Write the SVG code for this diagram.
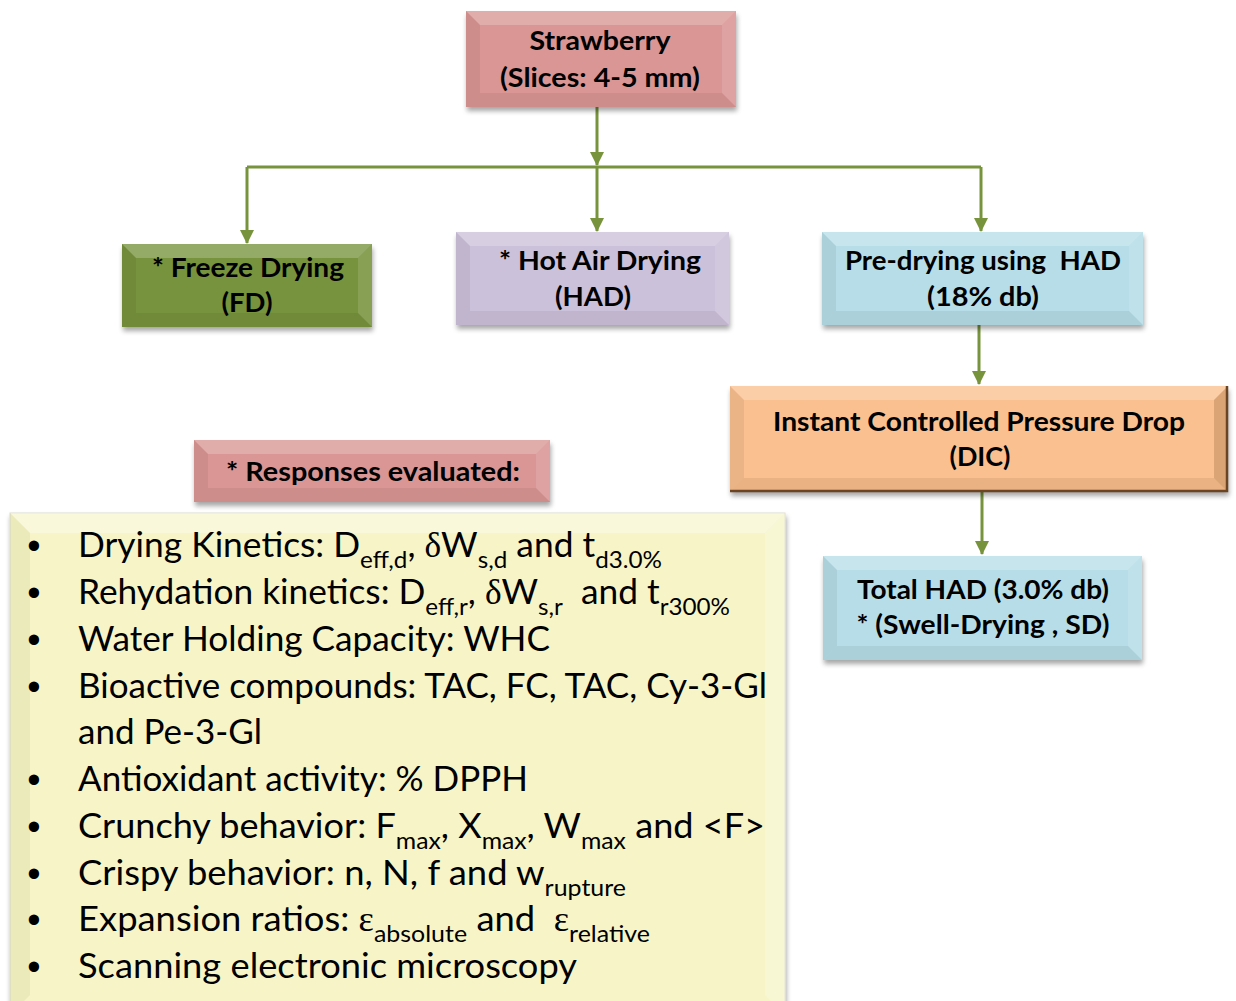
<svg xmlns="http://www.w3.org/2000/svg" width="1236" height="1001" viewBox="0 0 1236 1001">
<style>
.lbl{font-family:Lato,"Liberation Sans",sans-serif;font-weight:bold;font-size:27px;fill:#000;text-anchor:middle;white-space:pre}
.bul{font-family:Lato,"Liberation Sans",sans-serif;font-size:35px;fill:#000;white-space:pre}
.dot{font-family:"Liberation Sans",sans-serif;font-size:38px;fill:#000;text-anchor:middle}
.sub{font-size:24px}
.gr{font-family:"Liberation Serif",serif}
.bt{fill:#fff;opacity:.22}
.bl{fill:#000;opacity:.06}
.br{fill:#fff;opacity:.12}
.bb{fill:#000;opacity:.06}
.con{fill:none;stroke:#77933C;stroke-width:3}
</style>
<defs>
<filter id="sh" x="-10%" y="-10%" width="125%" height="140%">
<feGaussianBlur in="SourceAlpha" stdDeviation="2.5"/>
<feOffset dx="1" dy="4" result="o"/>
<feComponentTransfer><feFuncA type="linear" slope="0.35"/></feComponentTransfer>
<feMerge><feMergeNode/><feMergeNode in="SourceGraphic"/></feMerge>
</filter>
<marker id="ah" markerUnits="userSpaceOnUse" markerWidth="14" markerHeight="14" refX="13" refY="7" orient="auto">
<path d="M0,0 L14,7 L0,14 z" fill="#77933C"/>
</marker>
</defs>
<rect width="1236" height="1001" fill="#fff"/>

<g id="connectors">
<path class="con" d="M597,107 V165" marker-end="url(#ah)"/>
<path class="con" d="M247,167 H981"/>
<path class="con" d="M247,167 V243" marker-end="url(#ah)"/>
<path class="con" d="M597,167 V231" marker-end="url(#ah)"/>
<path class="con" d="M981,167 V231" marker-end="url(#ah)"/>
<path class="con" d="M979,325 V384" marker-end="url(#ah)"/>
<path class="con" d="M982,492 V554" marker-end="url(#ah)"/>
</g>

<g id="strawberry">
<rect x="466" y="11" width="270" height="96" fill="#D99694" filter="url(#sh)"/>
<polygon class="bt" points="466,11 736,11 722,25 480,25"/>
<polygon class="bl" points="466,11 480,25 480,93 466,107"/>
<polygon class="br" points="736,11 736,107 722,93 722,25"/>
<polygon class="bb" points="466,107 480,93 722,93 736,107"/>
<text class="lbl" x="600" y="50" textLength="141" lengthAdjust="spacingAndGlyphs">Strawberry</text>
<text class="lbl" x="600" y="87" textLength="200" lengthAdjust="spacingAndGlyphs">(Slices: 4-5 mm)</text>
</g>

<g id="fd">
<rect x="122" y="244" width="250" height="83" fill="#77933C" filter="url(#sh)"/>
<polygon class="bt" points="122,244 372,244 358,258 136,258"/>
<polygon class="bl" points="122,244 136,258 136,313 122,327"/>
<polygon class="br" points="372,244 372,327 358,313 358,258"/>
<polygon class="bb" points="122,327 136,313 358,313 372,327"/>
<text class="lbl" x="248" y="277" textLength="192" lengthAdjust="spacingAndGlyphs">* Freeze Drying</text>
<text class="lbl" x="247" y="312" textLength="51" lengthAdjust="spacingAndGlyphs">(FD)</text>
</g>

<g id="had">
<rect x="456" y="232" width="273" height="93" fill="#CCC1DA" filter="url(#sh)"/>
<polygon class="bt" points="456,232 729,232 715,246 470,246"/>
<polygon class="bl" points="456,232 470,246 470,311 456,325"/>
<polygon class="br" points="729,232 729,325 715,311 715,246"/>
<polygon class="bb" points="456,325 470,311 715,311 729,325"/>
<text class="lbl" x="600" y="270" textLength="202" lengthAdjust="spacingAndGlyphs">* Hot Air Drying</text>
<text class="lbl" x="593" y="306" textLength="76" lengthAdjust="spacingAndGlyphs">(HAD)</text>
</g>

<g id="predrying">
<rect x="822" y="232" width="321" height="93" fill="#B7DEE8" filter="url(#sh)"/>
<polygon class="bt" points="822,232 1143,232 1129,246 836,246"/>
<polygon class="bl" points="822,232 836,246 836,311 822,325"/>
<polygon class="br" points="1143,232 1143,325 1129,311 1129,246"/>
<polygon class="bb" points="822,325 836,311 1129,311 1143,325"/>
<text class="lbl" x="983" y="270" textLength="276" lengthAdjust="spacingAndGlyphs">Pre-drying using  HAD</text>
<text class="lbl" x="983" y="306" textLength="112" lengthAdjust="spacingAndGlyphs">(18% db)</text>
</g>

<g id="dic">
<rect x="730" y="386" width="498" height="106" fill="#FAC090" filter="url(#sh)"/>
<polygon class="bt" points="730,386 1228,386 1214,400 744,400"/>
<polygon class="bl" points="730,386 744,400 744,478 730,492"/>
<polygon fill="#7a4e24" opacity=".25" points="1228,386 1228,492 1214,478 1214,400"/>
<polygon fill="#7a4e24" opacity=".12" points="730,492 744,478 1214,478 1228,492"/>
<path d="M1227,386 V491 H730" fill="none" stroke="#6b4423" stroke-width="2.5"/>
<text class="lbl" x="979" y="431" textLength="412" lengthAdjust="spacingAndGlyphs">Instant Controlled Pressure Drop</text>
<text class="lbl" x="980" y="466" textLength="61" lengthAdjust="spacingAndGlyphs">(DIC)</text>
</g>

<g id="totalhad">
<rect x="823" y="556" width="319" height="104" fill="#B7DEE8" filter="url(#sh)"/>
<polygon class="bt" points="823,556 1142,556 1128,570 837,570"/>
<polygon class="bl" points="823,556 837,570 837,646 823,660"/>
<polygon class="br" points="1142,556 1142,660 1128,646 1128,570"/>
<polygon class="bb" points="823,660 837,646 1128,646 1142,660"/>
<text class="lbl" x="983" y="599" textLength="252" lengthAdjust="spacingAndGlyphs">Total HAD (3.0% db)</text>
<text class="lbl" x="983" y="634" textLength="253" lengthAdjust="spacingAndGlyphs">* (Swell-Drying , SD)</text>
</g>

<g id="responses">
<rect x="194" y="440" width="356" height="62" fill="#D99694" filter="url(#sh)"/>
<polygon class="bt" points="194,440 550,440 536,454 208,454"/>
<polygon class="bl" points="194,440 208,454 208,488 194,502"/>
<polygon class="br" points="550,440 550,502 536,488 536,454"/>
<polygon class="bb" points="194,502 208,488 536,488 550,502"/>
<text class="lbl" x="373" y="481" textLength="294" lengthAdjust="spacingAndGlyphs">* Responses evaluated:</text>
</g>

<g id="responselist">
<rect x="10" y="513" width="775" height="502" fill="#F7F5C8" stroke="#dcdcd0" stroke-width="1" filter="url(#sh)"/>
<polygon fill="#fff" opacity=".35" points="10,513 785,513 765,533 30,533"/>
<polygon fill="#8a8650" opacity=".1" points="10,513 30,533 30,995 10,1015"/>
<polygon fill="#fff" opacity=".2" points="785,513 785,1015 765,995 765,533"/>
<g class="dot">
<text x="34" y="559">•</text>
<text x="34" y="606">•</text>
<text x="34" y="653">•</text>
<text x="34" y="700">•</text>
<text x="34" y="793">•</text>
<text x="34" y="840">•</text>
<text x="34" y="887">•</text>
<text x="34" y="933">•</text>
<text x="34" y="980">•</text>
</g>
<text class="bul" x="78" y="557" textLength="584" lengthAdjust="spacingAndGlyphs">Drying Kinetics: D<tspan class="sub" dy="11">eff,d</tspan><tspan dy="-11">, </tspan><tspan class="gr">δ</tspan>W<tspan class="sub" dy="11">s,d</tspan><tspan dy="-11"> and t</tspan><tspan class="sub" dy="11">d3.0%</tspan></text>
<text class="bul" x="78" y="604" textLength="652" lengthAdjust="spacingAndGlyphs">Rehydation kinetics: D<tspan class="sub" dy="11">eff,r</tspan><tspan dy="-11">, </tspan><tspan class="gr">δ</tspan>W<tspan class="sub" dy="11">s,r</tspan><tspan dy="-11">  and t</tspan><tspan class="sub" dy="11">r300%</tspan></text>
<text class="bul" x="78" y="651" textLength="472" lengthAdjust="spacingAndGlyphs">Water Holding Capacity: WHC</text>
<text class="bul" x="78" y="698" textLength="689" lengthAdjust="spacingAndGlyphs">Bioactive compounds: TAC, FC, TAC, Cy-3-Gl</text>
<text class="bul" x="78" y="744" textLength="184" lengthAdjust="spacingAndGlyphs">and Pe-3-Gl</text>
<text class="bul" x="78" y="791" textLength="450" lengthAdjust="spacingAndGlyphs">Antioxidant activity: % DPPH</text>
<text class="bul" x="78" y="838" textLength="687" lengthAdjust="spacingAndGlyphs">Crunchy behavior: F<tspan class="sub" dy="11">max</tspan><tspan dy="-11">, X</tspan><tspan class="sub" dy="11">max</tspan><tspan dy="-11">, W</tspan><tspan class="sub" dy="11">max</tspan><tspan dy="-11"> and &lt;F&gt;</tspan></text>
<text class="bul" x="78" y="885" textLength="548" lengthAdjust="spacingAndGlyphs">Crispy behavior: n, N, f and w<tspan class="sub" dy="11">rupture</tspan></text>
<text class="bul" x="78" y="931" textLength="572" lengthAdjust="spacingAndGlyphs">Expansion ratios: <tspan class="gr">ε</tspan><tspan class="sub" dy="11">absolute</tspan><tspan dy="-11"> and  </tspan><tspan class="gr">ε</tspan><tspan class="sub" dy="11">relative</tspan></text>
<text class="bul" x="78" y="978" textLength="499" lengthAdjust="spacingAndGlyphs">Scanning electronic microscopy</text>
</g>
</svg>
